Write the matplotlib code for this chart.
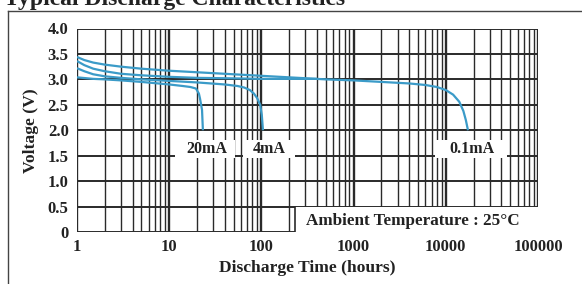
import matplotlib
matplotlib.use("Agg")
import matplotlib.pyplot as plt
from matplotlib.patches import Rectangle
from matplotlib.lines import Line2D

# ---- data ----
x_ticks = [1, 10, 100, 1000, 10000, 100000]
x_tick_labels = ["1", "10", "100", "1000", "10000", "100000"]
y_ticks = [0, 0.5, 1.0, 1.5, 2.0, 2.5, 3.0, 3.5, 4.0]
y_tick_labels = ["0", "0.5", "1.0", "1.5", "2.0", "2.5", "3.0", "3.5", "4.0"]

t_01mA = [1, 1.2, 1.5, 2, 3, 5, 10, 20, 50, 100, 200, 500, 1000, 2000, 4000,
          6000, 8000, 10000, 12000, 14000, 15500, 16500, 17400]
v_01mA = [3.44, 3.38, 3.33, 3.29, 3.25, 3.21, 3.17, 3.14, 3.10, 3.07, 3.04, 3.0,
          2.98, 2.95, 2.92, 2.89, 2.85, 2.79, 2.70, 2.56, 2.38, 2.2, 2.0]

t_mid = [1, 1.2, 1.5, 2, 3, 5, 10, 20, 50, 100, 200, 400]
v_mid = [3.36, 3.28, 3.21, 3.16, 3.11, 3.08, 3.05, 3.03, 3.02, 3.01, 3.01, 3.01]

t_4mA = [1, 1.2, 1.5, 2, 3, 5, 10, 20, 40, 55, 65, 75, 83, 90, 97, 101, 104]
v_4mA = [3.22, 3.16, 3.10, 3.06, 3.03, 3.0, 2.97, 2.94, 2.90, 2.87, 2.84, 2.79,
         2.72, 2.63, 2.5, 2.3, 2.0]

t_20mA = [1, 1.5, 2, 3, 5, 10, 14, 17, 19.5, 21, 21.6, 22.7, 23.2]
v_20mA = [3.04, 3.01, 3.0, 2.98, 2.95, 2.90, 2.87, 2.85, 2.82, 2.72, 2.62, 2.4, 2.0]

labels = ["20mA", "4mA", "0.1mA"]
label_x = [25.7, 121, 19200]
label_boxes = [(11.6, 51.7), (63, 232), (7600, 46000)]

# ---- figure ----
fig = plt.figure(figsize=(5.82, 2.84), dpi=100)
serif = ["Liberation Serif", "DejaVu Serif"]
ax = fig.add_axes([77/582, 1-232/284, (538-77)/582, (232-28.5)/284])
ax.set_xscale("log")
ax.set_xlim(1, 100000)
ax.set_ylim(0, 4.0)
for s in ax.spines.values():
    s.set_visible(False)

gc = "#2a2a2a"
tc = "#222222"
# vertical grid
for d in range(5):
    base = 10 ** d
    ax.axvline(base, color=gc, lw=1.7, zorder=1)
    for m in range(2, 10):
        ax.axvline(base * m, color=gc, lw=1.0, zorder=1)
ax.axvline(100000, color=gc, lw=1.7, zorder=1)
for yv in y_ticks:
    ax.axhline(yv, color=gc, lw=1.4, zorder=1)

# white box for ambient temperature
ax.add_patch(Rectangle((232, 0), 200000, 0.5, facecolor="white",
                       edgecolor="none", zorder=2, clip_on=False))
ax.plot([232, 232], [0, 0.5], color=gc, lw=1.2, zorder=2.5)
ax.text(305, 0.22, "Ambient Temperature : 25°C", family=serif, weight="bold",
        fontsize=12.3, ha="left", va="center", zorder=3, color=tc)

# label boxes
for (x0, x1) in label_boxes:
    ax.add_patch(Rectangle((x0, 1.45), x1 - x0, 0.36, facecolor="white",
                           edgecolor="none", zorder=2))
for lab, xp in zip(labels, label_x):
    ax.text(xp, 1.63, lab, family=serif, weight="bold", fontsize=11.5,
            ha="center", va="center", zorder=3, color=tc)

# curves
cc = "#3b9bc8"
for t, v in [(t_01mA, v_01mA), (t_mid, v_mid), (t_4mA, v_4mA), (t_20mA, v_20mA)]:
    ax.plot(t, v, color=cc, lw=1.6, zorder=4, solid_capstyle="butt")

ax.set_xticks(x_ticks)
ax.set_xticklabels(x_tick_labels)
ax.set_xticks([], minor=True)
ax.set_yticks(y_ticks)
ax.set_yticklabels(y_tick_labels)
ax.tick_params(length=0)
ax.tick_params(axis="x", pad=5)
ax.tick_params(axis="y", pad=6)
for lbl in ax.get_xticklabels() + ax.get_yticklabels():
    lbl.set_family(serif)
    lbl.set_weight("bold")
    lbl.set_fontsize(12)
    lbl.set_color(tc)

ax.set_xlabel("Discharge Time (hours)", family=serif, weight="bold",
              fontsize=12.6, color=tc, labelpad=4)
ax.set_ylabel("Voltage (V)", family=serif, weight="bold", fontsize=12.6,
              color=tc, labelpad=6)

# outer frame and cut-off title
fig.add_artist(Line2D([8/582, 8/582], [0, 1-11/284], color="#444", lw=1.0))
fig.add_artist(Line2D([8/582, 1], [1-11/284, 1-11/284], color="#444", lw=1.0))
fig.text(345/582, 1-5/284, "Typical Discharge Characteristics", family=serif,
         weight="bold", fontsize=17, ha="right", va="baseline", color=tc)

fig.savefig("out.png", dpi=100)
